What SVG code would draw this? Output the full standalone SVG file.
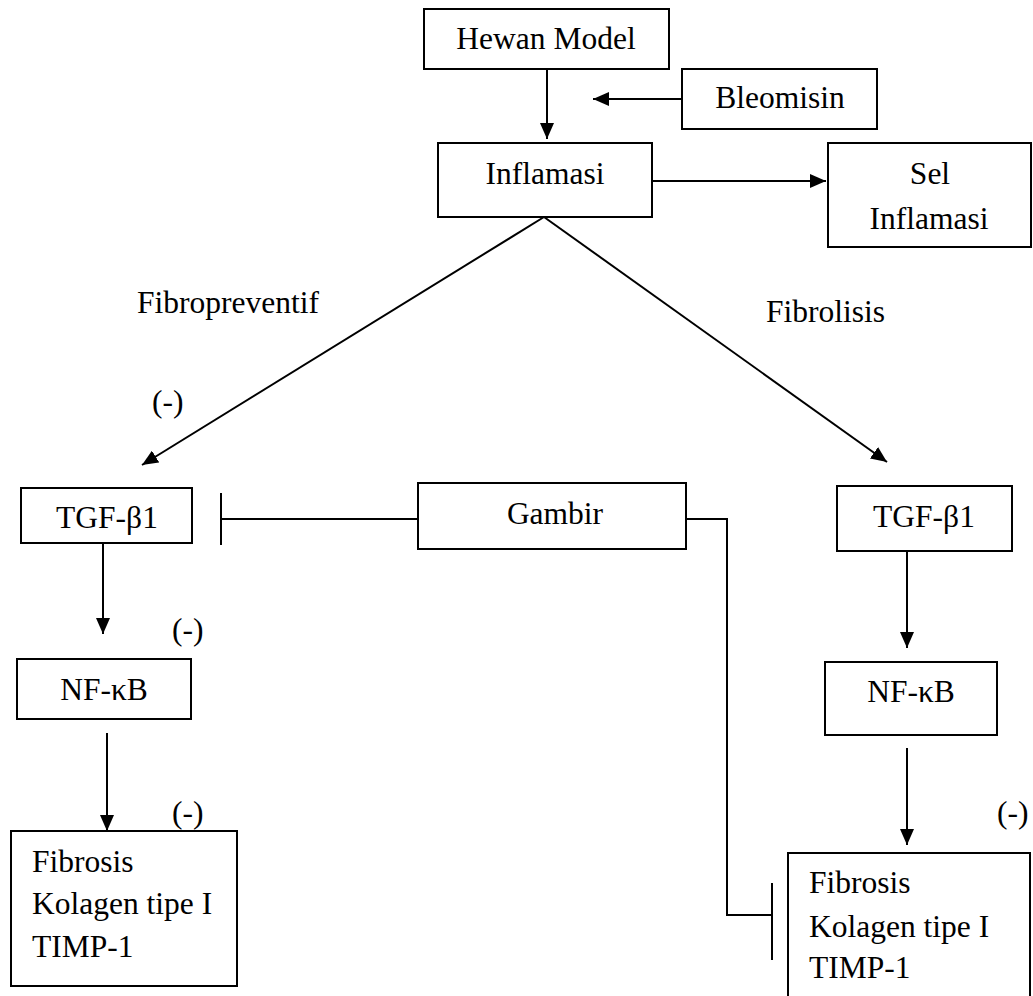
<svg xmlns="http://www.w3.org/2000/svg" width="1033" height="996" viewBox="0 0 1033 996">
<style>
.box{fill:#fff;stroke:#000;stroke-width:2}
.t{font-size:31.5px;fill:#000}
.c{text-anchor:middle}
.ln{fill:none;stroke:#000;stroke-width:2}
</style>
<defs>
<marker id="ah" markerUnits="userSpaceOnUse" markerWidth="16" markerHeight="14" refX="16" refY="7" orient="auto">
<path d="M0,0 L16,7 L0,14 z" fill="#000"/>
</marker>
</defs>
<rect width="1033" height="996" fill="#fff"/>
<g id="connectors">
<path class="ln" d="M547 69 V139" marker-end="url(#ah)"/>
<path class="ln" d="M682 99 H593" marker-end="url(#ah)"/>
<path class="ln" d="M652 181 H826" marker-end="url(#ah)"/>
<path class="ln" d="M544 217 L142 465" marker-end="url(#ah)"/>
<path class="ln" d="M544 217 L887 462" marker-end="url(#ah)"/>
<path class="ln" d="M103 543 V634" marker-end="url(#ah)"/>
<path class="ln" d="M107 733 V831" marker-end="url(#ah)"/>
<path class="ln" d="M907 551 V648" marker-end="url(#ah)"/>
<path class="ln" d="M907 748 V845" marker-end="url(#ah)"/>
<path class="ln" d="M418 519 H221 M221 493 V545"/>
<path class="ln" d="M686 519 H727 V915 H772 M772 883 V960"/>
</g>
<g font-family="'Liberation Serif', 'Times New Roman', Times, 'DejaVu Serif', serif">
<g id="labels">
<text class="t" x="137" y="313">Fibropreventif</text>
<text class="t" x="766" y="322">Fibrolisis</text>
<text class="t" x="152" y="412">(-)</text>
<text class="t" x="172" y="640">(-)</text>
<text class="t" x="172" y="823">(-)</text>
<text class="t" x="997" y="823">(-)</text>
</g>
<g id="hewan"><rect class="box" x="424" y="9" width="245" height="60"/><text class="t c" x="546" y="49">Hewan Model</text></g>
<g id="bleomisin"><rect class="box" x="682" y="69" width="195" height="60"/><text class="t c" x="780" y="108">Bleomisin</text></g>
<g id="inflamasi"><rect class="box" x="438" y="143" width="214" height="74"/><text class="t c" x="545" y="184">Inflamasi</text></g>
<g id="sel"><rect class="box" x="828" y="143" width="203" height="104"/><text class="t c" x="930" y="184">Sel</text><text class="t c" x="929" y="229">Inflamasi</text></g>
<g id="tgf-left"><rect class="box" x="21" y="488" width="171" height="55"/><text class="t c" x="107" y="528">TGF-β1</text></g>
<g id="gambir"><rect class="box" x="418" y="483" width="268" height="66"/><text class="t c" x="555" y="524">Gambir</text></g>
<g id="tgf-right"><rect class="box" x="837" y="486" width="175" height="65"/><text class="t c" x="924" y="527">TGF-β1</text></g>
<g id="nfkb-left"><rect class="box" x="17" y="659" width="174" height="60"/><text class="t c" x="104" y="700">NF-κB</text></g>
<g id="nfkb-right"><rect class="box" x="825" y="662" width="172" height="73"/><text class="t c" x="911" y="702">NF-κB</text></g>
<g id="fibrosis-left"><rect class="box" x="11" y="831" width="226" height="155"/><text class="t" x="32" y="872">Fibrosis</text><text class="t" x="32" y="914">Kolagen tipe I</text><text class="t" x="32" y="957">TIMP-1</text></g>
<g id="fibrosis-right"><rect class="box" x="788" y="853" width="242" height="150"/><text class="t" x="809" y="893">Fibrosis</text><text class="t" x="809" y="937">Kolagen tipe I</text><text class="t" x="809" y="978">TIMP-1</text></g>
</g>
</svg>
